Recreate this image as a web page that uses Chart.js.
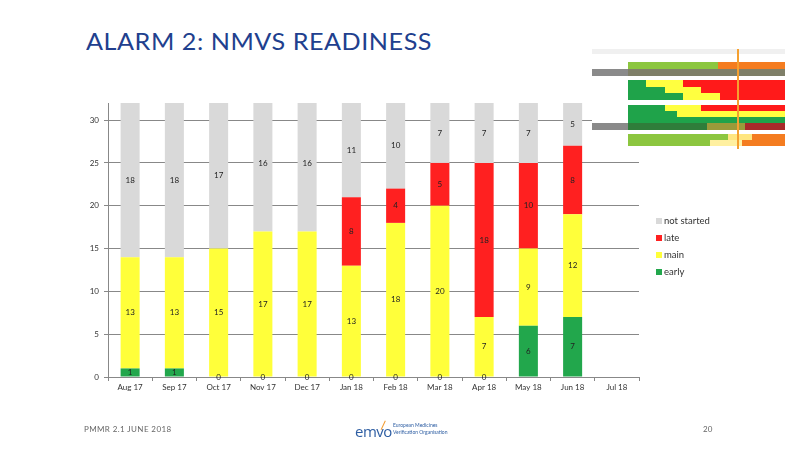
<!DOCTYPE html>
<html><head><meta charset="utf-8">
<script src="https://cdn.jsdelivr.net/npm/chart.js@4.4.0/dist/chart.umd.min.js"></script>
<style>
html,body{margin:0;padding:0;background:#fff;}
#page{position:relative;width:797px;height:449px;overflow:hidden;font-family:Lato,"Noto Sans",sans-serif;}
#title{position:absolute;left:86px;top:26px;font-size:24px;color:#213f8e;white-space:nowrap;transform-origin:0 0;letter-spacing:0.5px;}
#chartWrap{position:absolute;left:0;top:0;width:797px;height:449px;}
#legend{position:absolute;left:656px;top:214px;font-size:9.5px;color:#333;}
#legend div{height:17px;line-height:14px;white-space:nowrap;}
#legend span{display:inline-block;width:6px;height:6px;margin-right:2px;vertical-align:0px;}
#footL{position:absolute;left:84px;top:424px;font-size:8px;color:#666;letter-spacing:0.4px;}
#footR{position:absolute;left:703px;top:424px;font-size:8px;color:#666;}
#logo{position:absolute;left:355px;top:419px;height:20px;}
#logo .em{position:absolute;left:0;top:2px;font-size:15px;color:#2e5ea3;letter-spacing:-0.5px;font-family:"Open Sans",sans-serif;}
#logo .em b{font-weight:normal;color:#2e5ea3;}
#logo .tk{position:absolute;left:22px;top:0px;width:6px;height:10px;border-right:1.5px solid #f29a2e;transform:rotate(25deg);}
#logo .sm{position:absolute;left:38px;top:3px;font-size:5px;line-height:7px;color:#2e5ea3;white-space:nowrap;}
#thumb{position:absolute;left:592px;top:49px;width:193px;height:100px;background:#fff;}
.tr{position:absolute;left:0;width:193px;}
.tc{position:absolute;top:0;bottom:0;}
</style></head>
<body><div id="page">
<div id="title">ALARM 2: NMVS READINESS</div>
<div id="chartWrap"><canvas id="c" width="797" height="449"></canvas></div>
<div id="legend"></div>
<div id="thumb"></div>
<div id="footL">PMMR 2.1 JUNE 2018</div>
<div id="logo"><div class="em">emvo</div><div class="tk"></div><div class="sm">European Medicines<br>Verification Organisation</div></div>
<div id="footR">20</div>
</div>
<script>
// ---- data ----
const categories = ["Aug 17","Sep 17","Oct 17","Nov 17","Dec 17","Jan 18","Feb 18","Mar 18","Apr 18","May 18","Jun 18","Jul 18"];
const early      = [1, 1, 0, 0, 0, 0, 0, 0, 0, 6, 7, null];
const mainVals   = [13, 13, 15, 17, 17, 13, 18, 20, 7, 9, 12, null];
const late       = [null, null, null, null, null, 8, 4, 5, 18, 10, 8, null];
const notStarted = [18, 18, 17, 16, 16, 11, 10, 7, 7, 7, 5, null];
const yTicks = [0, 5, 10, 15, 20, 25, 30];
const seriesNames = ["early", "main", "late", "not started"];
const seriesColors = ["#22a74c", "#ffff3a", "#ff2020", "#d9d9d9"];

// legend (HTML, reversed order like reference)
const lg = document.getElementById('legend');
[3,2,1,0].forEach(i => {
  const d = document.createElement('div');
  d.innerHTML = '<span style="background:' + seriesColors[i] + '"></span>' + seriesNames[i];
  lg.appendChild(d);
});

// title width fit
const t = document.getElementById('title');
const tw = t.getBoundingClientRect().width;
t.style.transform = 'scaleX(' + (346 / tw) + ')';

// thumbnail decoration (schedule table image)
const G='#1fa34a', LG='#8cc63f', Y='#ffff40', R='#ff1a1a', O='#f47c20', GR='#7f7f68', DG='#2f7d3a', OL='#9a9a3a', DR='#a82a2a', W='#ffffff';
const thumbRows = [
  [5, [[0,193,'#f0f0f0']]],
  [4, [[0,193,W]]],
  [4, [[0,193,W]]],
  [7, [[0,36,W],[36,126,LG],[126,193,O]]],
  [7, [[0,36,'#8a8a8a'],[36,193,GR]]],
  [4, [[0,193,W]]],
  [7, [[0,36,W],[36,54,G],[54,91,Y],[91,193,R]]],
  [6, [[0,36,W],[36,73,G],[73,109,Y],[109,193,R]]],
  [7, [[0,36,W],[36,91,G],[91,128,Y],[128,193,R]]],
  [5, [[0,193,W]]],
  [6, [[0,36,W],[36,73,G],[73,109,Y],[109,193,R]]],
  [6, [[0,36,W],[36,85,G],[85,193,Y]]],
  [6, [[0,36,W],[36,193,G]]],
  [7, [[0,36,'#8a8a8a'],[36,115,DG],[115,153,OL],[153,193,DR]]],
  [4, [[0,193,W]]],
  [6, [[0,36,W],[36,136,LG],[136,160,'#ffe680'],[160,193,O]]],
  [6, [[0,36,W],[36,118,LG],[118,150,'#fff0a0'],[150,193,O]]]
];
const th = document.getElementById('thumb');
let ty = 0;
thumbRows.forEach(r => {
  const row = document.createElement('div');
  row.className = 'tr'; row.style.top = ty + 'px'; row.style.height = r[0] + 'px';
  r[1].forEach(s => {
    const c = document.createElement('div');
    c.className = 'tc'; c.style.left = s[0] + 'px'; c.style.width = (s[1]-s[0]) + 'px'; c.style.background = s[2];
    row.appendChild(c);
  });
  th.appendChild(row);
  ty += r[0];
});
const ol = document.createElement('div');
ol.style.cssText = 'position:absolute;left:145px;top:0;width:2px;height:100px;background:#f5a030;';
th.appendChild(ol);

// data label plugin
const labelPlugin = {
  id: 'segLabels',
  afterDatasetsDraw(chart) {
    const ctx = chart.ctx;
    ctx.save();
    ctx.font = '8px Lato, "Noto Sans", sans-serif';
    ctx.fillStyle = '#222';
    ctx.textAlign = 'center';
    ctx.textBaseline = 'middle';
    chart.data.datasets.forEach((ds, di) => {
      const meta = chart.getDatasetMeta(di);
      meta.data.forEach((el, i) => {
        const v = ds.data[i];
        if (v === null || v === undefined) return;
        ctx.fillText(String(v), el.x, (el.y + el.base) / 2);
      });
    });
    ctx.restore();
  }
};

const seriesData = [early, mainVals, late, notStarted];
new Chart(document.getElementById('c'), {
  type: 'bar',
  data: {
    labels: categories,
    datasets: seriesData.map((d, i) => ({
      label: seriesNames[i], data: d, backgroundColor: seriesColors[i],
      borderWidth: 0, categoryPercentage: 1.0, barPercentage: 0.43
    }))
  },
  options: {
    responsive: false, animation: false,
    layout: { padding: { left: 78, right: 158, top: 103, bottom: 50 } },
    plugins: { legend: { display: false }, tooltip: { enabled: false } },
    scales: {
      x: {
        stacked: true,
        grid: { drawOnChartArea: false, drawTicks: true, tickLength: 4, color: '#888', offset: true },
        border: { color: '#888', width: 1 },
        ticks: { color: '#333', font: { size: 8, family: 'Lato' }, padding: 2, maxRotation: 0 },
        afterFit(s) { s.height = 22; }
      },
      y: {
        stacked: true, min: 0, max: 32,
        afterBuildTicks(s) { s.ticks = yTicks.map(v => ({ value: v })); },
        grid: { color: '#888', tickLength: 4, lineWidth: 1 },
        border: { color: '#888', width: 1 },
        ticks: { color: '#333', font: { size: 8, family: 'Lato' }, padding: 5 },
        afterFit(s) { s.width = 30; }
      }
    }
  },
  plugins: [labelPlugin]
});
</script>
</body></html>
